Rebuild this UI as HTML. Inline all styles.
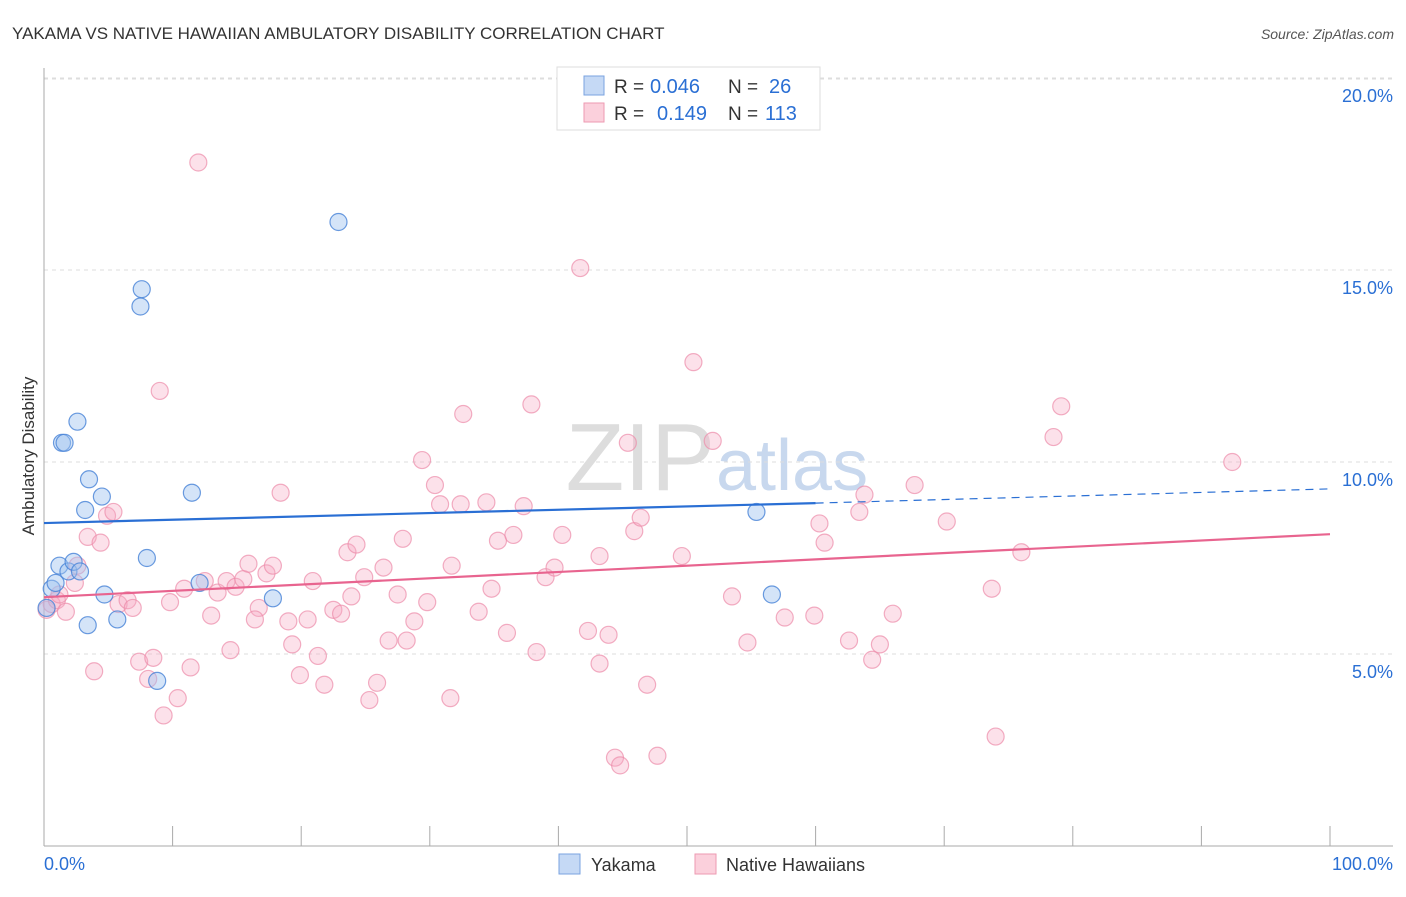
<!DOCTYPE html>
<html><head><meta charset="utf-8"><style>
body{margin:0;background:#fff;font-family:"Liberation Sans",sans-serif;}
svg text{font-family:"Liberation Sans",sans-serif;}
</style></head><body>
<svg id="c" width="1406" height="892">
<text x="12" y="39" font-size="17" fill="#333">YAKAMA VS NATIVE HAWAIIAN AMBULATORY DISABILITY CORRELATION CHART</text>
<text x="1394" y="39" font-size="14" font-style="italic" fill="#555" text-anchor="end">Source: ZipAtlas.com</text>
<text x="715" y="490" font-size="96" font-family="Liberation Serif" fill="#ddd" text-anchor="end">ZIP</text>
<text x="716" y="490" font-size="72" fill="#c8d8ee">atlas</text>
<text transform="translate(34,456) rotate(-90)" font-size="17" fill="#333" text-anchor="middle">Ambulatory Disability</text>
<g id="grid"></g><g id="pts"></g><g id="lines"></g>
<g>
<rect x="557" y="67" width="263" height="63" fill="#fff" stroke="#ddd"/>
<rect x="584" y="76" width="20" height="19" fill="#c5d9f5" stroke="#7aa3e0"/>
<rect x="584" y="103" width="20" height="19" fill="#fbd0dc" stroke="#ee9ab2"/>
<text x="614" y="93" font-size="19" fill="#333">R =</text>
<text x="650" y="93" font-size="20" fill="#2a6fd4">0.046</text>
<text x="728" y="93" font-size="19" fill="#333">N =</text>
<text x="769" y="93" font-size="20" fill="#2a6fd4">26</text>
<text x="614" y="120" font-size="19" fill="#333">R =</text>
<text x="657" y="120" font-size="20" fill="#2a6fd4">0.149</text>
<text x="728" y="120" font-size="19" fill="#333">N =</text>
<text x="765" y="120" font-size="20" fill="#2a6fd4">113</text>
</g>
<g>
<rect x="559" y="854" width="21" height="20" fill="#c5d9f5" stroke="#7aa3e0"/>
<text x="591" y="871" font-size="18" fill="#333">Yakama</text>
<rect x="695" y="854" width="21" height="20" fill="#fbd0dc" stroke="#ee9ab2"/>
<text x="726" y="871" font-size="18" fill="#333">Native Hawaiians</text>
</g>
<text x="44" y="870" font-size="18" fill="#2a6fd4">0.0%</text>
<text x="1393" y="870" font-size="18" fill="#2a6fd4" text-anchor="end">100.0%</text>
</svg>
<script>
const yTicks=[5,10,15,20];
const yTickLabels=["5.0%","10.0%","15.0%","20.0%"];
const xTicks=[0,10,20,30,40,50,60,70,80,90,100];
const yakamaX=[0.2,0.6,0.9,1.2,1.9,2.3,2.8,1.4,1.6,2.6,3.2,3.5,4.5,3.4,4.7,5.7,8.0,7.6,7.5,8.8,11.5,12.1,17.8,22.9,55.4,56.6];
const yakamaY=[6.2,6.7,6.85,7.3,7.15,7.4,7.15,10.5,10.5,11.05,8.75,9.55,9.1,5.75,6.55,5.9,7.5,14.5,14.05,4.3,9.2,6.85,6.45,16.25,8.7,6.55];
const hawX=[0.2,0.6,1.0,1.2,1.7,2.4,2.6,3.4,4.4,4.9,5.4,3.9,5.8,6.5,6.9,7.4,8.1,8.5,9.3,9.0,9.8,10.4,10.9,11.4,12.0,12.5,13.0,13.5,14.2,14.5,14.9,15.5,15.9,16.7,16.4,17.3,17.8,18.4,19.0,19.3,19.9,20.5,20.9,21.3,21.8,22.5,23.1,23.6,23.9,24.3,24.9,25.3,25.9,26.4,26.8,27.5,27.9,28.2,28.8,29.4,29.8,30.4,30.8,31.6,31.7,32.4,32.6,33.8,34.4,34.8,35.3,36.0,36.5,37.3,37.9,38.3,39.0,39.7,40.3,41.7,42.3,43.2,43.2,43.9,44.4,44.8,45.4,45.9,46.4,46.9,47.7,49.6,50.5,52.0,53.5,54.7,57.6,59.9,60.3,60.7,62.6,63.4,63.8,64.4,65.0,66.0,67.7,70.2,73.7,74.0,76.0,78.5,79.1,92.4];
const hawY=[6.15,6.3,6.4,6.55,6.1,6.85,7.3,8.05,7.9,8.6,8.7,4.55,6.3,6.4,6.2,4.8,4.35,4.9,3.4,11.85,6.35,3.85,6.7,4.65,17.8,6.9,6.0,6.6,6.9,5.1,6.75,6.95,7.35,6.2,5.9,7.1,7.3,9.2,5.85,5.25,4.45,5.9,6.9,4.95,4.2,6.15,6.05,7.65,6.5,7.85,7.0,3.8,4.25,7.25,5.35,6.55,8.0,5.35,5.85,10.05,6.35,9.4,8.9,3.85,7.3,8.9,11.25,6.1,8.95,6.7,7.95,5.55,8.1,8.85,11.5,5.05,7.0,7.25,8.1,15.05,5.6,7.55,4.75,5.5,2.3,2.1,10.5,8.2,8.55,4.2,2.35,7.55,12.6,10.55,6.5,5.3,5.95,6.0,8.4,7.9,5.35,8.7,9.15,4.85,5.25,6.05,9.4,8.45,6.7,2.85,7.65,10.65,11.45,10.0];
const yakTrendX=[0,60,100], yakTrendY=[8.41,8.93,9.3];
const hawTrendX=[0,100], hawTrendY=[6.48,8.12];
const X=v=>44+v*12.86, Y=v=>846-v*38.4;
const NS="http://www.w3.org/2000/svg";
function mk(t,a,p){const e=document.createElementNS(NS,t);for(const k in a)e.setAttribute(k,a[k]);p.appendChild(e);return e;}
const g=document.getElementById('grid');
yTicks.forEach((t,i)=>{
 const l=mk('line',{x1:44,x2:1393,y1:Y(t),y2:Y(t),stroke:'#ddd','stroke-dasharray':'4,4'},g);
 
 
 const tx=mk('text',{x:1393,y:Y(t)+24,'font-size':18,fill:'#2a6fd4','text-anchor':'end'},g);
 tx.textContent=yTickLabels[i];
 
 
});
const topLine=mk('line',{x1:44,x2:1393,y1:79,y2:79,stroke:'#ddd','stroke-dasharray':'4,4'},g);


const ya=mk('line',{x1:44,x2:44,y1:68,y2:846,stroke:'#aaa'},g);


const xa=mk('line',{x1:44,x2:1393,y1:846,y2:846,stroke:'#aaa'},g);


xTicks.forEach(t=>{
 const l=mk('line',{x1:X(t),x2:X(t),y1:826,y2:846,stroke:'#aaa'},g);
 
 
});
const p=document.getElementById('pts');
hawX.forEach((v,i)=>{
 const c=mk('circle',{cx:X(v),cy:Y(hawY[i]),r:8.5,fill:'rgba(246,170,195,0.35)',stroke:'rgba(236,140,170,0.7)','stroke-width':1.2},p);
 
 
});
yakamaX.forEach((v,i)=>{
 const c=mk('circle',{cx:X(v),cy:Y(yakamaY[i]),r:8.5,fill:'rgba(160,195,240,0.45)',stroke:'rgba(70,130,215,0.8)','stroke-width':1.2},p);
 
 
});
const L=document.getElementById('lines');
const b1=mk('line',{x1:X(yakTrendX[0]),y1:Y(yakTrendY[0]),x2:X(yakTrendX[1]),y2:Y(yakTrendY[1]),stroke:'#2a6fd4','stroke-width':2.2},L);


const b2=mk('line',{x1:X(yakTrendX[1]),y1:Y(yakTrendY[1]),x2:X(yakTrendX[2]),y2:Y(yakTrendY[2]),stroke:'#2a6fd4','stroke-width':1.2,'stroke-dasharray':'8,6'},L);


const h1=mk('line',{x1:X(hawTrendX[0]),y1:Y(hawTrendY[0]),x2:X(hawTrendX[1]),y2:Y(hawTrendY[1]),stroke:'#e8648f','stroke-width':2.2},L);


</script>
</body></html>
